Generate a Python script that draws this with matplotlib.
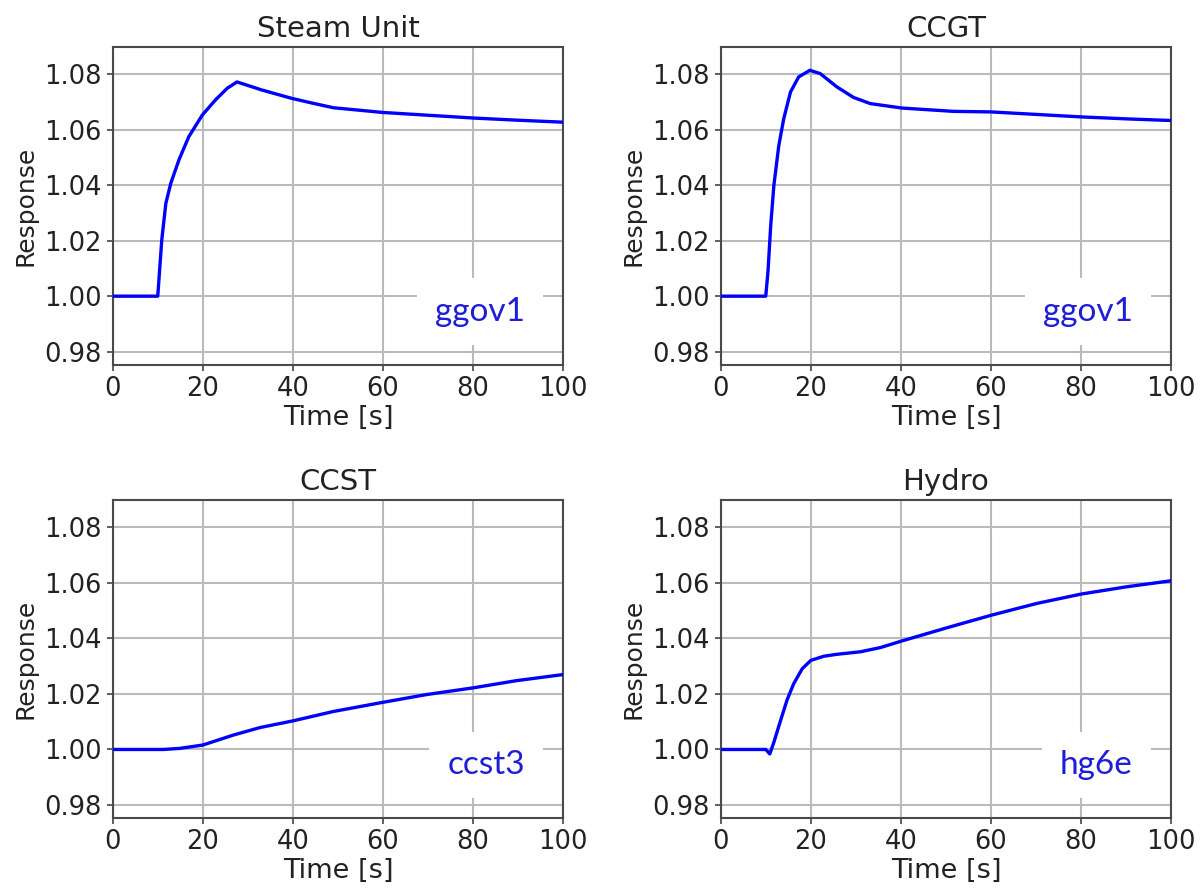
import numpy as np
import matplotlib
matplotlib.use("Agg")
import matplotlib.pyplot as plt
from matplotlib.lines import Line2D

# ---- data ----
titles = ["Steam Unit", "CCGT", "CCST", "Hydro"]
models = ["ggov1", "ggov1", "ccst3", "hg6e"]

steam_t = [0, 10, 10.9, 11.8, 12.9, 14.7, 16.9, 19.9, 22.8, 25.4, 27.6,
           33.1, 39.7, 44.5, 49, 60, 70, 80, 90, 100]
steam_y = [1.0, 1.0, 1.0204, 1.0335, 1.0407, 1.0491, 1.0575, 1.0653, 1.0707,
           1.0749, 1.0772, 1.0743, 1.0713, 1.0695, 1.0679, 1.0662, 1.0652,
           1.0642, 1.0634, 1.0627]

ccgt_t = [0, 10, 10.5, 11.1, 11.8, 12.9, 14.0, 15.5, 17.3, 19.8, 22.1, 25.8,
          29.5, 33.2, 40.2, 51.6, 60, 70, 80, 90, 100]
ccgt_y = [1.0, 1.0, 1.009, 1.0254, 1.0399, 1.0543, 1.064, 1.0736, 1.079,
          1.0814, 1.0802, 1.0754, 1.0716, 1.0694, 1.0678, 1.0666, 1.0664,
          1.0655, 1.0646, 1.0639, 1.0633]

ccst_t = [0, 11.2, 14.9, 20, 26.8, 32.7, 40, 49, 60, 69.7, 80, 89.6, 100]
ccst_y = [1.0, 1.0, 1.0004, 1.0016, 1.0052, 1.0079, 1.0103, 1.0137, 1.017,
          1.0198, 1.0222, 1.0248, 1.027]

hydro_t = [0, 10.0, 10.9, 11.8, 13.3, 14.7, 16.2, 18.1, 20, 22.9, 25.8, 31,
           35.4, 40.2, 50.1, 60.1, 70.1, 80, 90, 100]
hydro_y = [1.0, 1.0, 0.9984, 1.0026, 1.0105, 1.0177, 1.0237, 1.0291, 1.0321,
           1.0336, 1.0343, 1.0352, 1.0367, 1.0391, 1.0438, 1.0484, 1.0526,
           1.056, 1.0586, 1.0608]

series = [(steam_t, steam_y), (ccgt_t, ccgt_y), (ccst_t, ccst_y), (hydro_t, hydro_y)]

yticks = [0.98, 1.00, 1.02, 1.04, 1.06, 1.08]
xticks = [0, 20, 40, 60, 80, 100]

# ---- figure ----
fig = plt.figure(figsize=(12.02, 8.88), dpi=100)

W, H = 1202.0, 888.0
lefts = [112.7, 720.7, 112.7, 720.7]
tops = [46.7, 46.7, 500.0, 500.0]
aw, ah = 450.5, 318.3

for i in range(4):
    ax = fig.add_axes([lefts[i] / W, 1 - (tops[i] + ah) / H, aw / W, ah / H])
    t, y = series[i]
    ax.plot(t, y, color="#0000ff", lw=2.4, solid_joinstyle="round", zorder=3)

    ax.set_xlim(0, 100)
    ax.set_ylim(0.9752, 1.0899)
    ax.set_xticks(xticks)
    ax.set_yticks(yticks)
    ax.set_yticklabels([f"{v:.2f}" for v in yticks])
    ax.grid(True, color="#bababa", lw=1.5)
    ax.set_axisbelow(True)
    ax.tick_params(labelsize=18.5, length=4.5, width=1.2, color="#444444",
                   labelcolor="#222222")
    for s in ax.spines.values():
        s.set_color("#4a4a4a")
        s.set_linewidth(1.5)

    ax.set_title(titles[i], fontsize=21, pad=7, color="#222222")
    ax.set_xlabel("Time [s]", fontsize=19.5, labelpad=2, color="#222222")
    ax.set_ylabel("Response", fontsize=18, labelpad=5, color="#222222")

    leg = ax.legend([Line2D([], [], linestyle="none")], [models[i]],
                    loc="lower right", handlelength=0, handletextpad=0,
                    borderpad=0.55, borderaxespad=0.6, frameon=True,
                    fancybox=False, framealpha=1, edgecolor="none",
                    prop={"family": "Lato", "size": 24}, labelcolor="#1e1ed8")
    leg.set_zorder(2)

fig.savefig("out.png", dpi=100)
